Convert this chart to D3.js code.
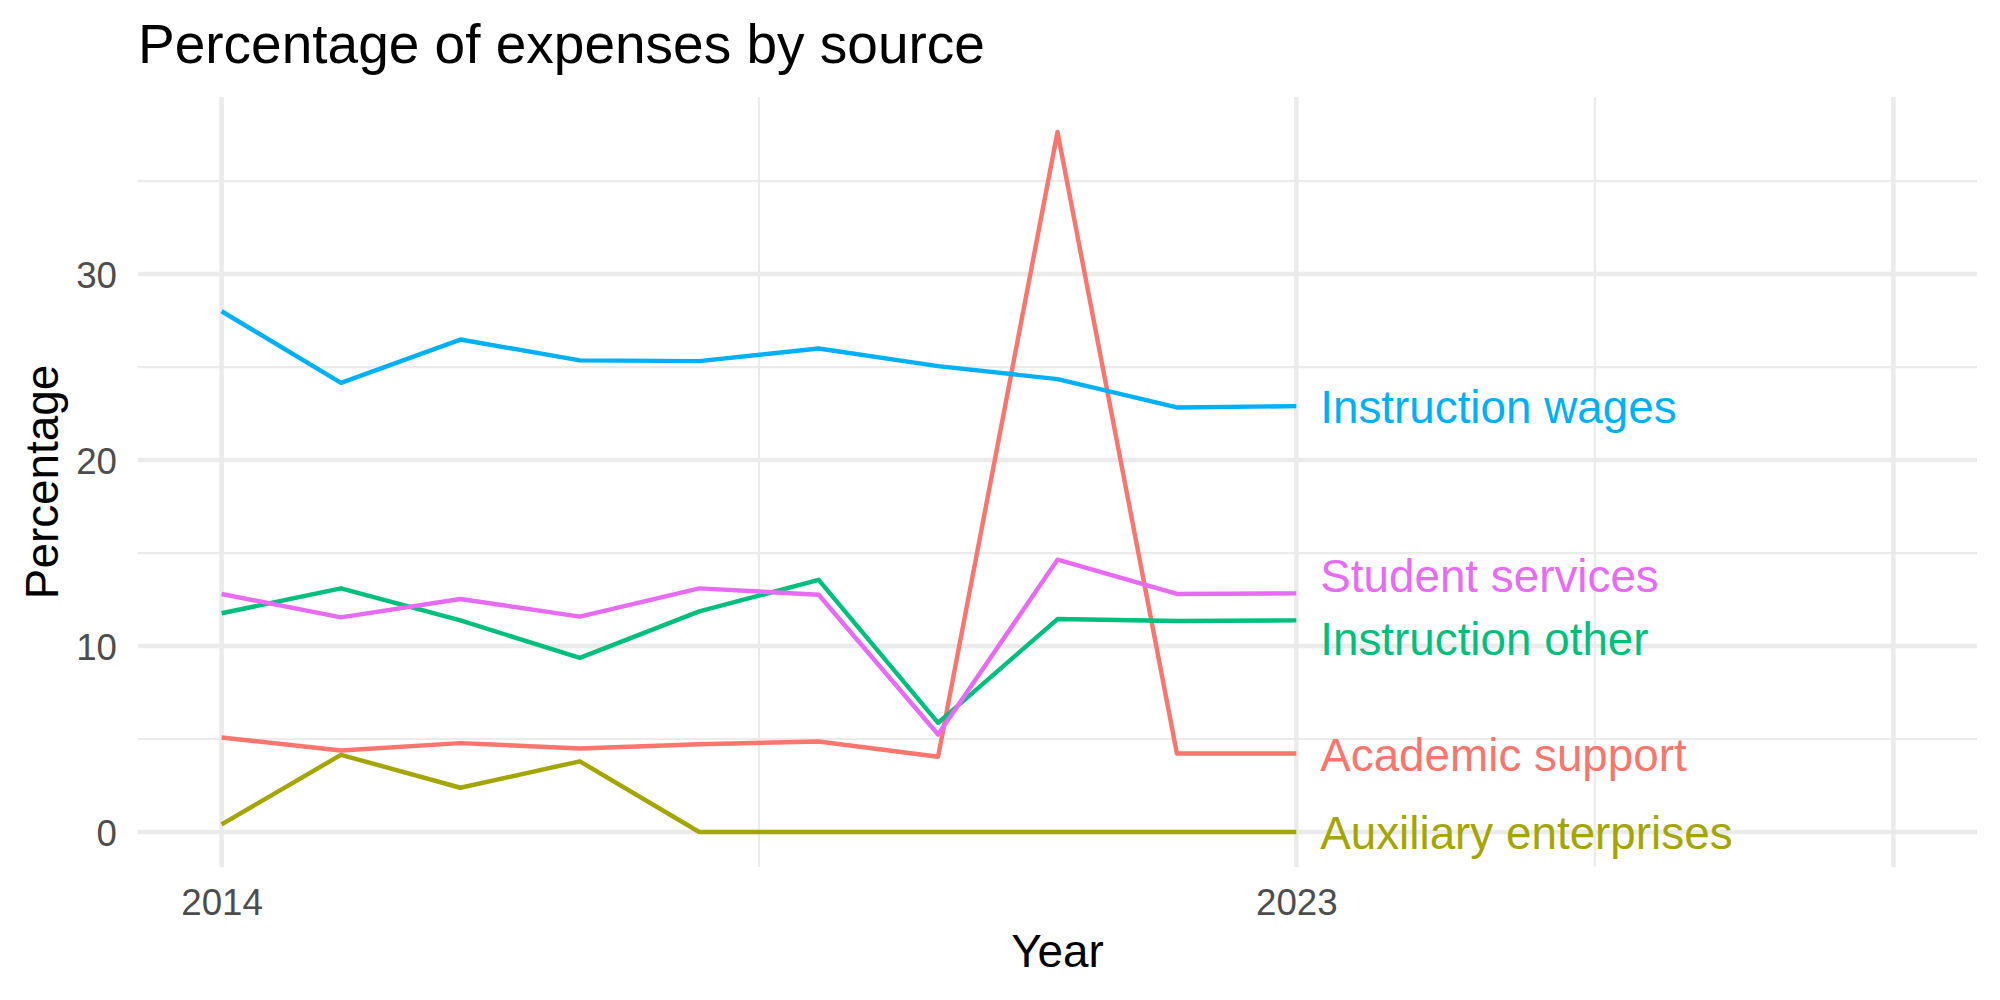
<!DOCTYPE html>
<html>
<head>
<meta charset="utf-8">
<script src="https://cdn.jsdelivr.net/npm/d3@7"></script>
<style>
  html, body { margin: 0; padding: 0; background: #ffffff; }
  svg { display: block; }
  text { font-family: "Liberation Sans", Arial, Helvetica, sans-serif; }
</style>
</head>
<body>
<svg id="chart" width="2000" height="1000"></svg>
<script>
// ---- Data ----
const years = [2014, 2015, 2016, 2017, 2018, 2019, 2020, 2021, 2022, 2023];
const seriesNames = ["Academic support", "Auxiliary enterprises", "Instruction other", "Instruction wages", "Student services"];
const academicSupport      = [5.08, 4.38, 4.78, 4.49, 4.72, 4.87, 4.05, 37.64, 4.22, 4.22];
const auxiliaryEnterprises = [0.41, 4.15, 2.38, 3.80, 0, 0, 0, 0, 0, 0];
const instructionOther     = [11.76, 13.10, 11.38, 9.36, 11.86, 13.56, 5.87, 11.45, 11.35, 11.38];
const instructionWages     = [28.00, 24.15, 26.48, 25.36, 25.32, 26.00, 25.05, 24.35, 22.83, 22.90];
const studentServices      = [12.80, 11.54, 12.53, 11.58, 13.10, 12.76, 5.24, 14.64, 12.80, 12.83];
const seriesColors = ["#F8766D", "#A3A500", "#00BF7D", "#00B0F6", "#E76BF3"];

const xTickValues = [2014, 2023, 2028];
const xTickLabels = ["2014", "2023", ""];
const xMinorValues = [2018.5, 2025.5];
const yTickValues = [0, 10, 20, 30];
const yTickLabels = ["0", "10", "20", "30"];
const yMinorValues = [5, 15, 25, 35];
const xLimits = [2014, 2028];

const titleText = "Percentage of expenses by source";
const xTitle = "Year";
const yTitle = "Percentage";

// ---- Build table ----
const seriesValues = [academicSupport, auxiliaryEnterprises, instructionOther, instructionWages, studentServices];
const series = seriesNames.map((name, i) => ({
  name, color: seriesColors[i],
  points: years.map((y, j) => ({ year: y, value: seriesValues[i][j] }))
}));

// ---- Layout ----
const svg = d3.select("#chart");
const panel = { left: 138, right: 1977, top: 97, bottom: 867 };

const xExp = (xLimits[1] - xLimits[0]) * 0.05;
const x = d3.scaleLinear()
  .domain([xLimits[0] - xExp, xLimits[1] + xExp])
  .range([panel.left, panel.right]);

const allVals = seriesValues.flat();
const yMin = d3.min(allVals), yMax = d3.max(allVals);
const yExp = (yMax - yMin) * 0.05;
const y = d3.scaleLinear()
  .domain([yMin - yExp, yMax + yExp])
  .range([panel.bottom, panel.top]);

const gridColor = "#EBEBEB";
const majorW = 4.45, minorW = 2.22;

// grid
const grid = svg.append("g");
grid.selectAll(".ymin").data(yMinorValues).join("line")
  .attr("x1", panel.left).attr("x2", panel.right)
  .attr("y1", d => y(d)).attr("y2", d => y(d))
  .attr("stroke", gridColor).attr("stroke-width", minorW);
grid.selectAll(".xmin").data(xMinorValues).join("line")
  .attr("y1", panel.top).attr("y2", panel.bottom)
  .attr("x1", d => x(d)).attr("x2", d => x(d))
  .attr("stroke", gridColor).attr("stroke-width", minorW);
grid.selectAll(".ymaj").data(yTickValues).join("line")
  .attr("x1", panel.left).attr("x2", panel.right)
  .attr("y1", d => y(d)).attr("y2", d => y(d))
  .attr("stroke", gridColor).attr("stroke-width", majorW);
grid.selectAll(".xmaj").data(xTickValues).join("line")
  .attr("y1", panel.top).attr("y2", panel.bottom)
  .attr("x1", d => x(d)).attr("x2", d => x(d))
  .attr("stroke", gridColor).attr("stroke-width", majorW);

// axes via d3 axis (no domain / tick lines, ggplot minimal style)
const tickFont = 36.7;
const yAxis = d3.axisLeft(y).tickValues(yTickValues)
  .tickFormat((d, i) => yTickLabels[i]).tickSize(0).tickPadding(0);
const gy = svg.append("g").attr("transform", `translate(117,0)`).call(yAxis);
gy.select(".domain").remove();
gy.selectAll("text")
  .attr("font-size", tickFont)
  .attr("fill", "#4D4D4D")
  .attr("font-family", "Liberation Sans, Arial, sans-serif")
  .attr("dy", null)
  .attr("y", 0.358 * tickFont)
  .attr("x", 0);

const xAxis = d3.axisBottom(x).tickValues(xTickValues)
  .tickFormat((d, i) => xTickLabels[i]).tickSize(0).tickPadding(0);
const gx = svg.append("g").attr("transform", `translate(0,${panel.bottom})`).call(xAxis);
gx.select(".domain").remove();
gx.selectAll("text")
  .attr("font-size", tickFont)
  .attr("fill", "#4D4D4D")
  .attr("font-family", "Liberation Sans, Arial, sans-serif")
  .attr("dy", null)
  .attr("y", 48);

// lines
const line = d3.line().x(d => x(d.year)).y(d => y(d.value));
svg.append("g").selectAll("path").data(series).join("path")
  .attr("d", d => line(d.points))
  .attr("fill", "none")
  .attr("stroke", d => d.color)
  .attr("stroke-width", 4.45)
  .attr("stroke-linejoin", "round")
  .attr("stroke-linecap", "butt");

// end labels with simple vertical repel
const labelFont = 45.8;
const minGap = 63;
const lastYear = years[years.length - 1];
const labels = series.map(s => ({
  name: s.name, color: s.color,
  ly: y(s.points[s.points.length - 1].value)
}));
labels.forEach(l => l.pos = l.ly);
const sorted = labels.slice().sort((a, b) => a.ly - b.ly);
for (let iter = 0; iter < 200; iter++) {
  let moved = false;
  for (let i = 0; i < sorted.length - 1; i++) {
    const a = sorted[i], b = sorted[i + 1];
    const gap = b.pos - a.pos;
    if (gap < minGap) {
      const push = (minGap - gap) / 2;
      a.pos -= push; b.pos += push; moved = true;
    }
  }
  if (!moved) break;
}
svg.append("g").selectAll("text").data(labels).join("text")
  .attr("x", x(lastYear + 0.2))
  .attr("y", d => d.pos + 0.7 + 0.358 * labelFont)
  .attr("font-size", labelFont)
  .attr("fill", d => d.color)
  .text(d => d.name);

// titles
svg.append("text")
  .attr("x", panel.left).attr("y", 63)
  .attr("font-size", 55)
  .attr("fill", "#000")
  .text(titleText);

svg.append("text")
  .attr("x", (panel.left + panel.right) / 2).attr("y", 967)
  .attr("text-anchor", "middle")
  .attr("font-size", 45.8)
  .attr("fill", "#000")
  .text(xTitle);

svg.append("text")
  .attr("transform", `translate(58,${(panel.top + panel.bottom) / 2}) rotate(-90)`)
  .attr("text-anchor", "middle")
  .attr("font-size", 45.8)
  .attr("fill", "#000")
  .text(yTitle);
</script>
</body>
</html>
